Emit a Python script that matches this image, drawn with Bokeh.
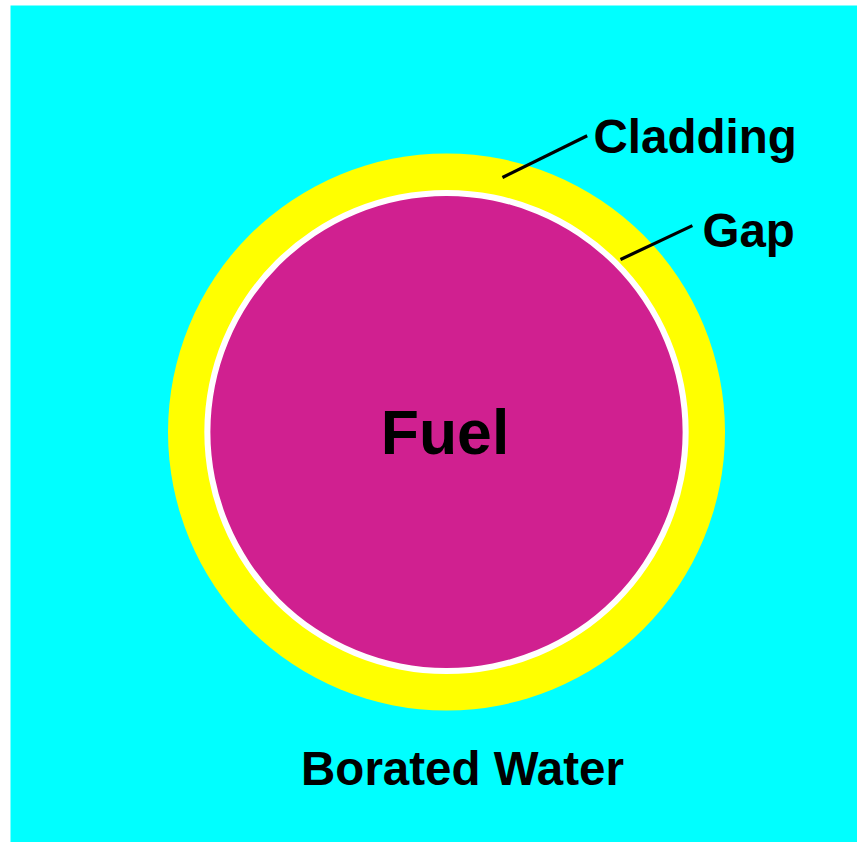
import math
from bokeh.plotting import figure
from bokeh.models import Range1d, ColumnDataSource
from bokeh.core.properties import value
from bokeh.embed import file_html
from bokeh.resources import INLINE

# ---- data: pin-cell regions (outer radius, cm) ----
regions = ["Cladding", "Gap", "Fuel"]
outer_radius = [0.46, 0.40, 0.39]
region_colors = ["#FFFF00", "#FFFFFF", "#D02090"]

# labels
leader_labels = ["Cladding", "Gap"]
center_label = "Fuel"
water_label = "Borated Water"

# ---- layout (pixels -> data) ----
S = 278.5 / 0.46          # px per cm
CX, CY = 446.0, 431.5     # pixel center of pin (figure coords)
W, H = 857, 842
BL, BT = 10, 5            # white border left / top
FS_SMALL, FS_BIG = 47.5, 62.5
BASE_SHIFT = 0.35         # baseline correction (em)

def px(xp):
    return (xp - CX) / S

def py(yp):
    return (CY - yp) / S

p = figure(width=W, height=H, output_backend="svg", toolbar_location=None,
           x_range=Range1d(px(BL), px(W)), y_range=Range1d(py(H), py(BT)),
           min_border=0, min_border_left=BL, min_border_right=0,
           min_border_top=BT, min_border_bottom=0)
p.background_fill_color = "#00FFFF"
p.border_fill_color = "#FFFFFF"
p.outline_line_color = None
p.axis.visible = False
p.grid.visible = False

src = ColumnDataSource(dict(x=[0.0] * len(regions), y=[0.0] * len(regions),
                            r=outer_radius, c=region_colors, name=regions))
p.circle(x="x", y="y", radius="r", fill_color="c", line_color=None, source=src)

# leader lines (start radius/angle, end radius/angle), in px units
lead = {
    "Cladding": dict(r0=260.6, a0=77.6, r1=328.0, a1=64.6, tx=593, ty=153),
    "Gap": dict(r0=245.0, a0=44.75, r1=321.0, a1=40.0, tx=702, ty=247),
}
x0, y0, x1, y1, tx, ty = [], [], [], [], [], []
for name in leader_labels:
    d = lead[name]
    x0.append(d["r0"] / S * math.cos(math.radians(d["a0"])))
    y0.append(d["r0"] / S * math.sin(math.radians(d["a0"])))
    x1.append(d["r1"] / S * math.cos(math.radians(d["a1"])))
    y1.append(d["r1"] / S * math.sin(math.radians(d["a1"])))
    tx.append(px(d["tx"]))
    ty.append(py(d["ty"] - BASE_SHIFT * FS_SMALL))

p.segment(x0=x0, y0=y0, x1=x1, y1=y1, line_color="black", line_width=3.2)

font = value("Liberation Sans")
p.text(x=tx, y=ty, text=leader_labels, text_font=font,
       text_font_size=f"{FS_SMALL}px",
       text_font_style="bold", text_color="black", text_align="left",
       text_baseline="alphabetic")
p.text(x=[px(444.5)], y=[py(453 - BASE_SHIFT * FS_BIG)], text=[center_label],
       text_font=font, text_font_size=f"{FS_BIG}px", text_font_style="bold",
       text_color="black", text_align="center", text_baseline="alphabetic")
p.text(x=[px(462)], y=[py(785 - BASE_SHIFT * FS_SMALL)], text=[water_label],
       text_font=font, text_font_size=f"{FS_SMALL}px", text_font_style="bold",
       text_color="black", text_align="center", text_baseline="alphabetic")

open("out.html", "w").write(file_html(p, INLINE))
